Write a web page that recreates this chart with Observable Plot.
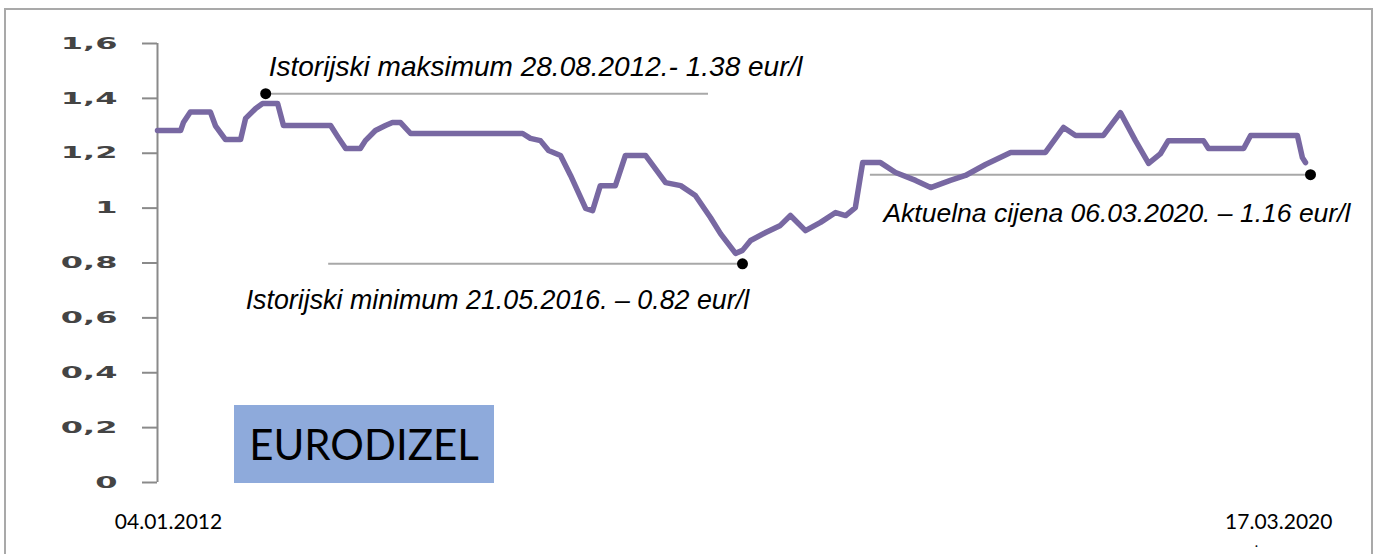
<!DOCTYPE html>
<html>
<head>
<meta charset="utf-8">
<script src="https://cdn.jsdelivr.net/npm/d3@7"></script>
<script src="https://cdn.jsdelivr.net/npm/@observablehq/plot@0.6"></script>
<style>
  html, body { margin: 0; padding: 0; background: #fff; overflow: hidden; }
  #wrap { position: relative; width: 1377px; height: 554px; overflow: hidden; }
  #wrap svg { position: absolute; left: 0; top: 0; }
  #frame { position: absolute; left: 4px; top: 8px; width: 1369px; height: 620px;
           border: 2px solid #a9a9a9; box-sizing: border-box; }
  #badge { position: absolute; left: 234px; top: 405px; width: 260px; height: 78px;
           background: #8eaadb; color: #000; font-family: Lato, sans-serif; font-size: 42px;
           display: flex; align-items: center; justify-content: center; }
</style>
</head>
<body>
<div id="wrap">
  <div id="frame"></div>
</div>
<script>
// Diesel price series
const dates = [
  "2012-01-04","2012-03-04","2012-03-11","2012-03-29","2012-05-20","2012-06-02","2012-06-28",
  "2012-08-06","2012-08-19","2012-09-14","2012-10-02","2012-11-10","2012-11-25","2013-03-27",
  "2013-04-16","2013-05-05","2013-06-12","2013-06-25","2013-07-21","2013-08-16","2013-09-03",
  "2013-09-24","2013-10-20","2014-08-06","2014-08-26","2014-09-21","2014-10-12","2014-11-12",
  "2014-12-08","2015-01-16","2015-02-03","2015-02-23","2015-04-03","2015-04-29","2015-06-20",
  "2015-08-11","2015-09-19","2015-10-27","2015-12-05","2015-12-31","2016-02-08","2016-02-26",
  "2016-03-18","2016-04-26","2016-06-03","2016-06-29","2016-08-07","2016-09-15","2016-10-24",
  "2016-11-19","2016-12-14","2017-01-02","2017-02-17","2017-03-28","2017-05-19","2017-06-27",
  "2017-08-17","2017-09-25","2017-11-16","2018-01-20","2018-04-20","2018-06-06","2018-07-07",
  "2018-09-17","2018-10-31","2018-12-09","2019-01-12","2019-02-12","2019-03-04","2019-06-03",
  "2019-06-16","2019-09-15","2019-10-03","2020-02-01","2020-02-14","2020-02-22"
];
const prices = [
  1.283,1.283,1.312,1.35,1.35,1.30,1.25,
  1.25,1.327,1.363,1.381,1.381,1.301,1.301,
  1.257,1.217,1.217,1.246,1.283,1.301,1.312,
  1.312,1.272,1.272,1.254,1.246,1.210,1.192,
  1.119,0.999,0.991,1.082,1.082,1.192,1.192,
  1.093,1.082,1.046,0.966,0.907,0.835,0.846,
  0.882,0.911,0.937,0.973,0.918,0.948,0.984,
  0.973,1.002,1.166,1.166,1.130,1.101,1.075,
  1.101,1.119,1.159,1.203,1.203,1.294,1.265,
  1.265,1.348,1.246,1.163,1.199,1.246,1.246,
  1.217,1.217,1.265,1.265,1.184,1.166
];

// y axis ticks
const yTicks = [0, 0.2, 0.4, 0.6, 0.8, 1, 1.2, 1.4, 1.6];

// annotations: marker point, other end of guide line, text
const annotLabels = [
  "Istorijski maksimum 28.08.2012.- 1.38 eur/l",
  "Istorijski minimum 21.05.2016. – 0.82 eur/l",
  "Aktuelna cijena 06.03.2020. – 1.16 eur/l"
];
const annotDotDates = ["2012-10-10", "2016-02-26", "2020-03-06"];
const annotDotValues = [1.417, 0.797, 1.122];
const annotLineEndDates = ["2015-11-30", "2013-03-22", "2017-01-22"];

// bottom date labels
const xLabels = ["04.01.2012", "17.03.2020"];
const xLabelDates = ["2012-01-04", "2020-03-17"];

const badgeText = "EURODIZEL";

const series = dates.map((d, i) => ({date: new Date(d), value: prices[i]}));
const annots = annotLabels.map((t, i) => ({
  label: t,
  date: new Date(annotDotDates[i]),
  value: annotDotValues[i],
  end: new Date(annotLineEndDates[i])
}));
const xLab = xLabels.map((t, i) => ({label: t, date: new Date(xLabelDates[i]), value: 0}));
const startDate = new Date(dates[0]);

const italic = {fontFamily: "'Liberation Sans', Arial, sans-serif", fontStyle: "italic", fill: "#000"};
const lab = {y: "value", text: "label", dy: 40, fontSize: 21, fontFamily: "Lato, sans-serif", fill: "#000"};

const chart = Plot.plot({
  width: 1377,
  height: 554,
  marginLeft: 157,
  marginRight: 67,
  marginTop: 43,
  marginBottom: 72,
  style: {background: "transparent", overflow: "visible"},
  x: {type: "utc", domain: [startDate, new Date("2020-03-06")], axis: null},
  y: {domain: [0, 1.6], axis: null},
  marks: [
    Plot.axisY(yTicks, {
      tickSize: 15,
      tickPadding: 25,
      stroke: "#8a8a8a",
      strokeWidth: 2,
      fill: "#444",
      fontSize: 16,
      fontWeight: "bold",
      fontFamily: "'DejaVu Sans', Verdana, sans-serif",
      tickFormat: d => String(d).replace(".", ","),
      label: null
    }),
    Plot.ruleX([startDate], {y1: 0, y2: 1.6, stroke: "#8a8a8a", strokeWidth: 2}),
    Plot.ruleY(annots, {y: "value", x1: "date", x2: "end", stroke: "#a8a8a8", strokeWidth: 2}),
    Plot.line(series, {x: "date", y: "value", stroke: "#7868a2", strokeWidth: 5.5,
                       strokeLinejoin: "round", strokeLinecap: "round"}),
    Plot.dot(annots, {x: "date", y: "value", r: 5.5, fill: "#000", stroke: null}),
    Plot.text(annots.slice(0, 1), {x: "date", y: "value", text: "label", textAnchor: "start",
                                   dx: 3, dy: -27, fontSize: 28, ...italic}),
    Plot.text(annots.slice(1, 2), {x: "end", y: "value", text: "label", textAnchor: "start",
                                   dx: -83, dy: 37, fontSize: 26.8, ...italic}),
    Plot.text(annots.slice(2, 3), {x: "end", y: "value", text: "label", textAnchor: "start",
                                   dx: 13, dy: 39, fontSize: 26.5, ...italic}),
    Plot.text(xLab.slice(0, 1), {x: "date", dx: 11, ...lab}),
    Plot.text(xLab.slice(1, 2), {x: "date", dx: -36, ...lab})
  ]
});

// stretch y tick labels horizontally like the reference
d3.select(chart).selectAll('g[aria-label="y-axis tick label"] text').each(function () {
  const t = this.getAttribute("transform");
  if (t) {
    this.setAttribute("transform", t + " scale(2,1)");
  } else {
    const x = this.getAttribute("x") || 0, y = this.getAttribute("y") || 0;
    this.removeAttribute("x"); this.removeAttribute("y");
    this.setAttribute("transform", `translate(${x},${y}) scale(2,1)`);
  }
});

const wrap = document.getElementById("wrap");
wrap.insertBefore(chart, wrap.firstChild);
const badge = document.createElement("div");
badge.id = "badge";
badge.textContent = badgeText;
wrap.appendChild(badge);
const dot = document.createElement("div");
dot.textContent = ".";
dot.style.cssText = "position:absolute;left:1255px;top:538px;line-height:10px;height:10px;font-family:Lato,sans-serif;font-size:12px;font-weight:bold;color:#000";
wrap.appendChild(dot);
</script>
</body>
</html>
